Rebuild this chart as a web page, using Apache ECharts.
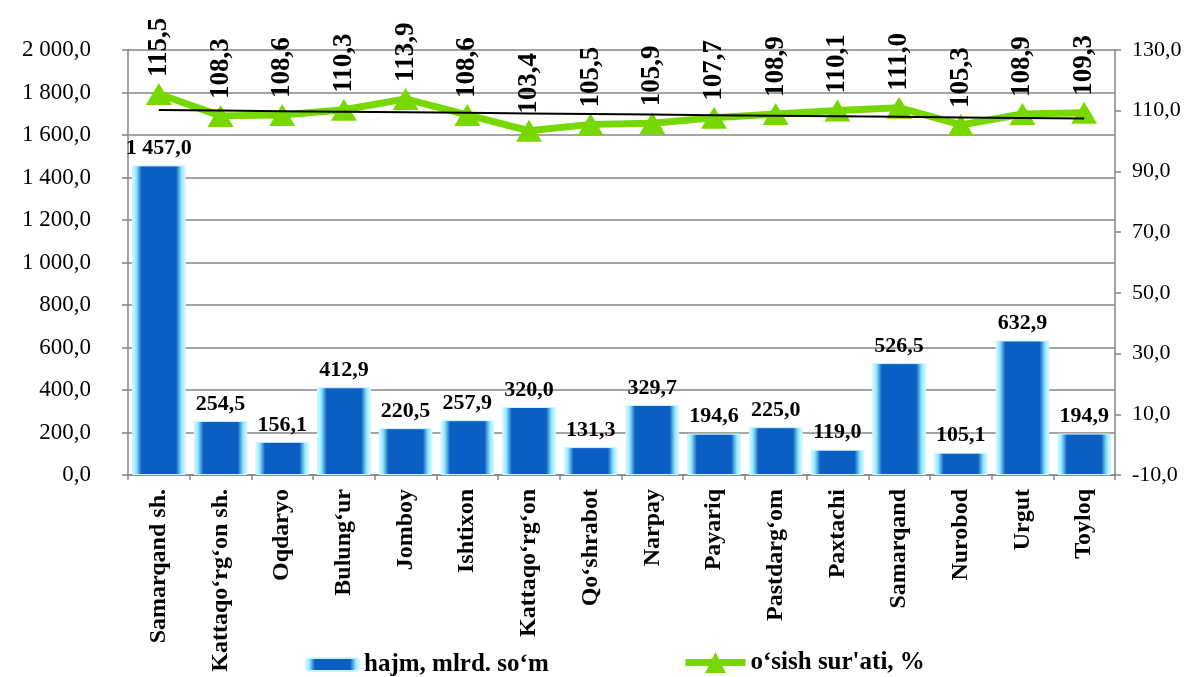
<!DOCTYPE html>
<html>
<head>
<meta charset="utf-8">
<script src="https://cdn.jsdelivr.net/npm/echarts@6/dist/echarts.min.js"></script>
<style>html,body{margin:0;padding:0;background:#fff}#c{width:1189px;height:677px}</style>
</head>
<body>
<div id="c"></div>
<script>
var categories = ['Samarqand sh.', 'Kattaqo\u2018rg\u2018on sh.', 'Oqdaryo', 'Bulung\u2018ur', 'Jomboy', 'Ishtixon', 'Kattaqo\u2018rg\u2018on', 'Qo\u2018shrabot', 'Narpay', 'Payariq', 'Pastdarg\u2018om', 'Paxtachi', 'Samarqand', 'Nurobod', 'Urgut', 'Toyloq'];
var volume = [1457.0, 254.5, 156.1, 412.9, 220.5, 257.9, 320.0, 131.3, 329.7, 194.6, 225.0, 119.0, 526.5, 105.1, 632.9, 194.9];
var growth = [115.5, 108.3, 108.6, 110.3, 113.9, 108.6, 103.4, 105.5, 105.9, 107.7, 108.9, 110.1, 111.0, 105.3, 108.9, 109.3];
var volumeName = 'hajm, mlrd. so\u2018m';
var growthName = 'o\u2018sish sur\'ati, %';

// linear trend line (least squares) of growth
var n = growth.length, sx = 0, sy = 0, sxy = 0, sxx = 0;
for (var i = 0; i < n; i++) { sx += i; sy += growth[i]; sxy += i * growth[i]; sxx += i * i; }
var slope = (n * sxy - sx * sy) / (n * sxx - sx * sx);
var icpt = (sy - slope * sx) / n;
var trend = growth.map(function (_, i) { return icpt + slope * i; });

function fmt(v) {
  var s = Math.abs(v).toFixed(1).split('.');
  var int = s[0].replace(/\B(?=(\d{3})+(?!\d))/g, ' ');
  return (v < 0 ? '-' : '') + int + ',' + s[1];
}

var FONT = 'Liberation Serif';
var chart = echarts.init(document.getElementById('c'));
var barGrad = new echarts.graphic.LinearGradient(0, 0, 1, 0, [
  { offset: 0, color: '#e6fcff' },
  { offset: 0.08, color: '#8fe6ff' },
  { offset: 0.18, color: '#0b5fc2' },
  { offset: 0.82, color: '#0b5fc2' },
  { offset: 0.92, color: '#8fe6ff' },
  { offset: 1, color: '#e6fcff' }
]);

chart.setOption({
  animation: false,
  backgroundColor: '#ffffff',
  textStyle: { fontFamily: FONT },
  grid: { left: 128, right: 74, top: 50, bottom: 202 },
  legend: [
    { data: [volumeName], left: 300, top: 647, itemWidth: 53, itemHeight: 13, itemGap: 8,
      textStyle: { fontFamily: FONT, fontSize: 25, fontWeight: 'bold', color: '#000' } },
    { data: [growthName], left: 677, top: 645, itemWidth: 60, itemHeight: 26, itemGap: 4,
      lineStyle: { width: 7 },
      textStyle: { fontFamily: FONT, fontSize: 25, fontWeight: 'bold', color: '#000' } }
  ],
  xAxis: {
    type: 'category',
    data: categories,
    axisLine: { lineStyle: { color: '#868686', width: 1.5 } },
    axisTick: { show: true, length: 5, lineStyle: { color: '#868686', width: 1.5 } },
    axisLabel: { rotate: 90, interval: 0, margin: 14, fontFamily: FONT, fontSize: 24, fontWeight: 'bold', color: '#000' }
  },
  yAxis: [
    {
      type: 'value', min: 0, max: 2000, interval: 200,
      axisLine: { show: true, lineStyle: { color: '#868686', width: 1.5 } },
      axisTick: { show: true, length: 6, lineStyle: { color: '#868686', width: 1.5 } },
      splitLine: { show: true, lineStyle: { color: '#868686', width: 1.5 } },
      axisLabel: { margin: 37, fontFamily: FONT, fontSize: 23, color: '#000', formatter: fmt }
    },
    {
      type: 'value', min: -10, max: 130, interval: 20, position: 'right',
      axisLine: { show: true, lineStyle: { color: '#868686', width: 1.5 } },
      axisTick: { show: true, length: 6, lineStyle: { color: '#868686', width: 1.5 } },
      splitLine: { show: false },
      axisLabel: { margin: 17, fontFamily: FONT, fontSize: 22, color: '#000', formatter: fmt }
    }
  ],
  series: [
    {
      name: volumeName, type: 'bar', data: volume, barCategoryGap: '13%',
      itemStyle: { color: barGrad, borderColor: '#c8f6ff', borderWidth: 1 },
      label: { show: true, position: 'top', distance: 6, fontFamily: FONT, fontSize: 22, fontWeight: 'bold', color: '#000',
        formatter: function (p) { return fmt(p.value); } },
      z: 2
    },
    {
      name: growthName, type: 'line', yAxisIndex: 1, data: growth,
      symbol: 'triangle', symbolSize: [26, 22],
      lineStyle: { color: '#77d800', width: 7 },
      itemStyle: { color: '#77d800' },
      label: { show: true, position: 'top', distance: 6, rotate: 90, align: 'left', verticalAlign: 'middle',
        fontFamily: FONT, fontSize: 27, fontWeight: 'bold', color: '#000',
        formatter: function (p) { return fmt(p.value); } },
      z: 3
    },
    {
      name: 'trend', type: 'line', yAxisIndex: 1, data: trend,
      symbol: 'none', silent: true,
      lineStyle: { color: '#000', width: 2 },
      z: 4
    }
  ]
});
</script>
</body>
</html>
